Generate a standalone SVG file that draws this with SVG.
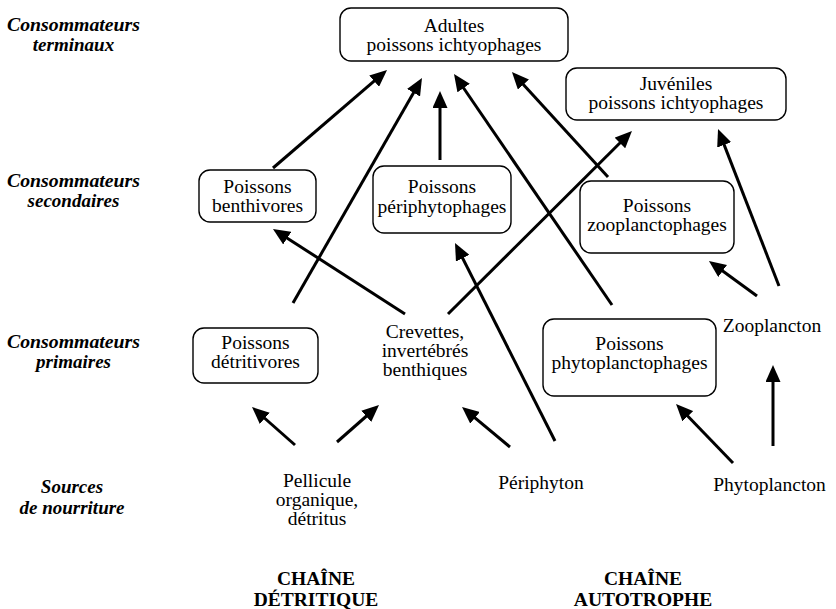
<svg xmlns="http://www.w3.org/2000/svg" width="836" height="609" viewBox="0 0 836 609">
<style>
  text { font-family: 'Liberation Serif', 'Times New Roman', Times, 'DejaVu Serif', serif; font-size: 19.5px; fill: #000; text-anchor: middle; }
  .lvl { font-weight: bold; font-style: italic; font-size: 19px; }
  .chain { font-weight: bold; }
  .box { fill: #fff; stroke: #000; stroke-width: 1.4; }
  .arr { stroke: #000; stroke-width: 3; fill: none; marker-end: url(#ah); }
</style>
<defs>
  <marker id="ah" viewBox="0 0 17 15" refX="11" refY="7.5" markerWidth="17" markerHeight="15" markerUnits="userSpaceOnUse" orient="auto">
    <path d="M0,0 L17,7.5 L0,15 Z" fill="#000"/>
  </marker>
</defs>
<rect width="836" height="609" fill="#fff"/>

<g id="levels">
  <text class="lvl" x="73.5" y="31" textLength="133" lengthAdjust="spacingAndGlyphs">Consommateurs</text>
  <text class="lvl" x="73.5" y="51">terminaux</text>
  <text class="lvl" x="73.5" y="187" textLength="133" lengthAdjust="spacingAndGlyphs">Consommateurs</text>
  <text class="lvl" x="73.5" y="207">secondaires</text>
  <text class="lvl" x="73.5" y="348" textLength="133" lengthAdjust="spacingAndGlyphs">Consommateurs</text>
  <text class="lvl" x="73.5" y="368">primaires</text>
  <text class="lvl" x="72" y="493">Sources</text>
  <text class="lvl" x="72" y="514">de nourriture</text>
</g>

<g id="connectors">
  <line class="arr" x1="273" y1="168" x2="382.5" y2="73.9"/>
  <line class="arr" x1="293" y1="303" x2="419" y2="83.2"/>
  <line class="arr" x1="440" y1="160" x2="440" y2="97"/>
  <line class="arr" x1="612" y1="305" x2="457.4" y2="79"/>
  <line class="arr" x1="608" y1="177" x2="516" y2="76.4"/>
  <line class="arr" x1="448" y1="314" x2="627.7" y2="135.2"/>
  <line class="arr" x1="779" y1="286" x2="720.2" y2="134.6"/>
  <line class="arr" x1="405" y1="314" x2="278" y2="232.2"/>
  <line class="arr" x1="555" y1="441" x2="457.7" y2="248.4"/>
  <line class="arr" x1="757" y1="296" x2="713.8" y2="264.5"/>
  <line class="arr" x1="773" y1="446" x2="773" y2="371"/>
  <line class="arr" x1="733" y1="463" x2="680.2" y2="408.3"/>
  <line class="arr" x1="510" y1="447" x2="466.6" y2="410.8"/>
  <line class="arr" x1="295" y1="445" x2="256.5" y2="411"/>
  <line class="arr" x1="337" y1="442" x2="374.5" y2="409"/>
</g>

<g id="adultes">
  <rect class="box" x="340" y="8" width="228" height="53" rx="11"/>
  <text x="454" y="32">Adultes</text>
  <text x="454" y="51">poissons ichtyophages</text>
</g>
<g id="juveniles">
  <rect class="box" x="566" y="68" width="220" height="52" rx="11"/>
  <text x="676" y="90">Juvéniles</text>
  <text x="676" y="109">poissons ichtyophages</text>
</g>
<g id="benthivores">
  <rect class="box" x="199" y="170" width="117" height="52" rx="11"/>
  <text x="257.5" y="193">Poissons</text>
  <text x="257.5" y="212">benthivores</text>
</g>
<g id="periphytophages">
  <rect class="box" x="373" y="166" width="138" height="67" rx="11"/>
  <text x="442" y="193">Poissons</text>
  <text x="442" y="213">périphytophages</text>
</g>
<g id="zooplanctophages">
  <rect class="box" x="580" y="181" width="154" height="72" rx="11"/>
  <text x="657" y="212">Poissons</text>
  <text x="657" y="231">zooplanctophages</text>
</g>
<g id="detritivores">
  <rect class="box" x="193" y="328" width="125" height="55" rx="11"/>
  <text x="255.5" y="349">Poissons</text>
  <text x="255.5" y="368">détritivores</text>
</g>
<g id="crevettes">
  <text x="425" y="338">Crevettes,</text>
  <text x="425" y="357">invertébrés</text>
  <text x="425" y="376">benthiques</text>
</g>
<g id="phytoplanctophages">
  <rect class="box" x="543" y="319" width="173" height="77" rx="11"/>
  <text x="629.5" y="350">Poissons</text>
  <text x="629.5" y="369">phytoplanctophages</text>
</g>
<g id="zooplancton">
  <text x="772" y="332">Zooplancton</text>
</g>
<g id="pellicule">
  <text x="317" y="487">Pellicule</text>
  <text x="317" y="506">organique,</text>
  <text x="317" y="525">détritus</text>
</g>
<g id="periphyton">
  <text x="541" y="489">Périphyton</text>
</g>
<g id="phytoplancton">
  <text x="769.5" y="491">Phytoplancton</text>
</g>

<g id="chains">
  <text class="chain" x="316" y="585">CHAÎNE</text>
  <text class="chain" x="316" y="606">DÉTRITIQUE</text>
  <text class="chain" x="643" y="585">CHAÎNE</text>
  <text class="chain" x="643" y="606">AUTOTROPHE</text>
</g>
</svg>
